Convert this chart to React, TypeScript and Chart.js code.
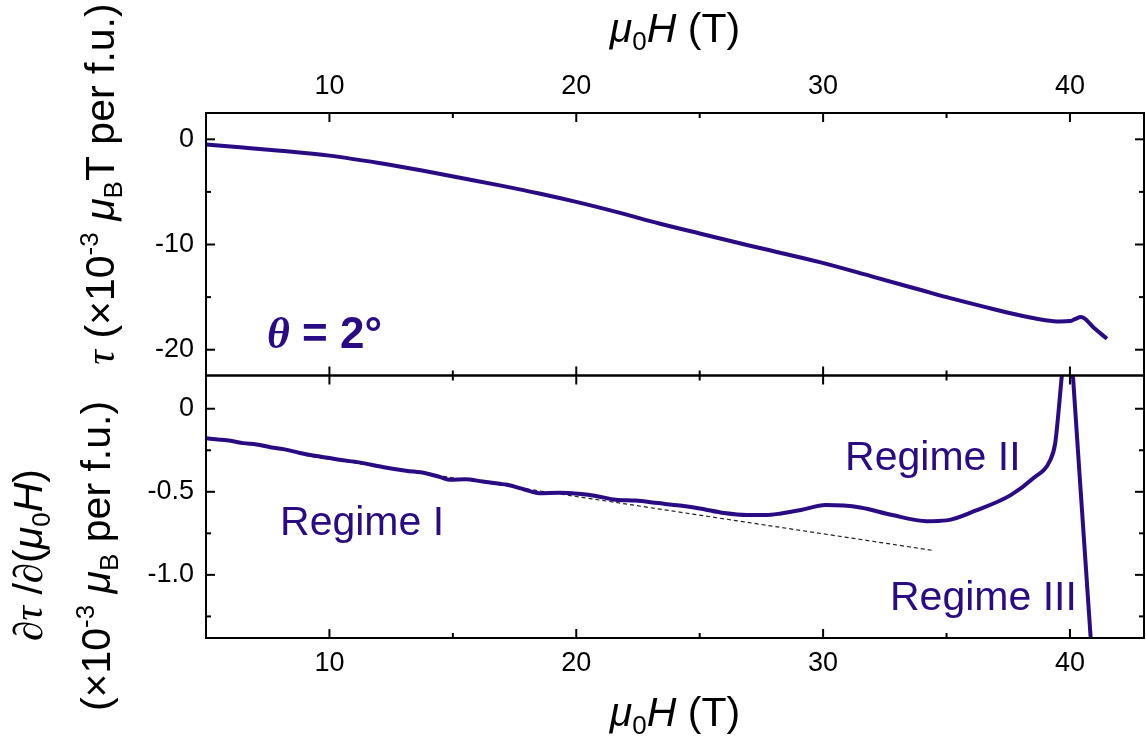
import React, { useEffect, useRef } from 'react';
import { Chart, registerables } from 'chart.js';

Chart.register(...registerables);

// ---- data ----
const torqueField = [5.0, 6.5, 8.0, 10.0, 12.0, 13.7, 15.5, 16.9, 18.5, 20.0, 21.7, 23.4, 25.0, 27.0, 29.9, 32.0, 34.0, 35.0, 36.5, 38.0, 39.0, 39.6, 40.0, 40.2, 40.45, 41.0, 41.5];
const torqueValues = [-0.5, -0.78, -1.08, -1.55, -2.25, -2.95, -3.75, -4.38, -5.15, -5.95, -6.95, -8.03, -8.95, -10.1, -11.7, -13.05, -14.35, -15.0, -15.9, -16.75, -17.2, -17.32, -17.28, -17.1, -16.9, -17.98, -18.96];

const derivField = [5.0, 5.5, 6.0, 6.5, 7.05, 7.65, 8.13, 8.8, 9.5, 10.4, 11.2, 12.2, 13.1, 13.9, 14.5, 14.9, 15.5, 16.2, 16.9, 17.2, 17.9, 18.5, 19.3, 20.2, 20.8, 21.6, 22.4, 23.3, 24.2, 25.0, 26.0, 26.9, 27.7, 28.3, 29.1, 30.1, 31.5, 32.8, 34.2, 35.0, 36.2, 37.6, 38.5, 39.2, 39.4, 39.53, 39.67, 39.8, 39.95, 40.05, 40.12, 40.84, 40.95];
const derivValues = [-0.178, -0.185, -0.193, -0.207, -0.215, -0.233, -0.243, -0.266, -0.285, -0.307, -0.323, -0.352, -0.373, -0.388, -0.412, -0.428, -0.425, -0.438, -0.452, -0.458, -0.486, -0.508, -0.505, -0.513, -0.525, -0.548, -0.553, -0.568, -0.583, -0.6, -0.628, -0.64, -0.64, -0.63, -0.61, -0.58, -0.594, -0.64, -0.677, -0.672, -0.612, -0.52, -0.42, -0.31, -0.21, -0.03, 0.2, 0.45, 0.6, 0.35, 0.2, -1.38, -1.6];

const fitField = [9.0, 34.5];
const fitValues = [-0.281, -0.854];

const xMajorTicks = [10, 20, 30, 40];
const xMinorTicks = [15, 25, 35];
const topMajorTicks = [0, -10, -20];
const topMinorTicks = [-5, -15];
const botMajorTicks = [0, -0.5, -1.0];
const botMinorTicks = [-0.25, -0.75, -1.25];

const regimeLabels = ['Regime I', 'Regime II', 'Regime III'];
const regimeLabelX = [8.0, 30.89, 32.71];
const regimeLabelY = [-0.761, -0.371, -1.211];
const angleLabelX = 7.47;
const angleLabelY = -19.79;

const LINE = '#2a0b84';
const SANS = "'Liberation Sans', Arial, sans-serif";
const SERIF = "'Liberation Serif', 'Times New Roman', serif";

type Seg = { t: string; f: string; dy?: number };

function richWidth(ctx: CanvasRenderingContext2D, segs: Seg[]) {
  let w = 0;
  for (const s of segs) {
    ctx.font = s.f;
    w += ctx.measureText(s.t).width;
  }
  return w;
}

function drawRich(ctx: CanvasRenderingContext2D, segs: Seg[], x: number, y: number, align: 'left' | 'center') {
  const w = richWidth(ctx, segs);
  let cx = align === 'center' ? x - w / 2 : x;
  ctx.textAlign = 'left';
  ctx.textBaseline = 'alphabetic';
  for (const s of segs) {
    ctx.font = s.f;
    ctx.fillText(s.t, cx, y + (s.dy || 0));
    cx += ctx.measureText(s.t).width;
  }
}

const big = `41px ${SANS}`;
const bigIt = `italic 41px ${SANS}`;
const small = `26px ${SANS}`;

const xTitle: Seg[] = [
  { t: 'μ', f: bigIt },
  { t: '0', f: small, dy: 8 },
  { t: 'H', f: bigIt },
  { t: ' (T)', f: big },
];
const topYTitle: Seg[] = [
  { t: 'τ', f: `italic 41px ${SERIF}` },
  { t: ' (×10', f: big },
  { t: '-3', f: small, dy: -16 },
  { t: ' ', f: big },
  { t: 'μ', f: bigIt },
  { t: 'B', f: small, dy: 8 },
  { t: 'T per f.u.)', f: big },
];
const botYTitle1: Seg[] = [
  { t: '∂', f: `41px ${SERIF}` },
  { t: 'τ', f: `italic 41px ${SERIF}` },
  { t: ' /', f: big },
  { t: '∂', f: `41px ${SERIF}` },
  { t: '(', f: big },
  { t: 'μ', f: bigIt },
  { t: '0', f: small, dy: 8 },
  { t: 'H', f: bigIt },
  { t: ')', f: big },
];
const botYTitle2: Seg[] = [
  { t: '(×10', f: big },
  { t: '-3', f: small, dy: -16 },
  { t: ' ', f: big },
  { t: 'μ', f: bigIt },
  { t: 'B', f: small, dy: 8 },
  { t: ' per f.u.)', f: big },
];
const angleLabel: Seg[] = [
  { t: 'θ', f: `italic bold 44px ${SERIF}` },
  { t: ' = 2°', f: `bold 44px ${SANS}` },
];

const panelClip = {
  id: 'panelClip',
  beforeDatasetDraw(chart: any, args: any) {
    const ys = chart.scales[args.meta.yAxisID];
    const ca = chart.chartArea;
    const ctx = chart.ctx;
    ctx.save();
    ctx.beginPath();
    ctx.rect(ca.left, ys.top, ca.right - ca.left, ys.bottom - ys.top);
    ctx.clip();
  },
  afterDatasetDraw(chart: any) {
    chart.ctx.restore();
  },
};

const decor = {
  id: 'decor',
  afterDraw(chart: any) {
    const ctx: CanvasRenderingContext2D = chart.ctx;
    const ca = chart.chartArea;
    const xs = chart.scales.x;
    const yt = chart.scales.yTop;
    const yb = chart.scales.yBot;
    const L = ca.left;
    const R = ca.right;
    ctx.save();
    ctx.strokeStyle = '#000';
    ctx.lineWidth = 2;
    const line = (x1: number, y1: number, x2: number, y2: number) => {
      ctx.beginPath();
      ctx.moveTo(x1, y1);
      ctx.lineTo(x2, y2);
      ctx.stroke();
    };
    const panels: [any, number[], number[]][] = [
      [yt, topMajorTicks, topMinorTicks],
      [yb, botMajorTicks, botMinorTicks],
    ];
    for (const [s, maj, min] of panels) {
      ctx.strokeRect(L, s.top, R - L, s.bottom - s.top);
      const yt2 = [...maj.map((v) => [v, 9]), ...min.map((v) => [v, 5])];
      for (const [v, len] of yt2) {
        const py = s.getPixelForValue(v);
        line(L, py, L + len, py);
        line(R, py, R - len, py);
      }
      const xt2 = [...xMajorTicks.map((v) => [v, 9]), ...xMinorTicks.map((v) => [v, 5])];
      for (const [v, len] of xt2) {
        const px = xs.getPixelForValue(v);
        line(px, s.top, px, s.top + len);
        line(px, s.bottom, px, s.bottom - len);
      }
    }

    // axis titles
    ctx.fillStyle = '#000';
    const cx = (L + R) / 2;
    drawRich(ctx, xTitle, cx, 42, 'center');
    drawRich(ctx, xTitle, cx, 726, 'center');

    ctx.save();
    ctx.translate(114, 184);
    ctx.rotate(-Math.PI / 2);
    drawRich(ctx, topYTitle, 0, 0, 'center');
    ctx.restore();

    ctx.save();
    ctx.translate(42, 555);
    ctx.rotate(-Math.PI / 2);
    drawRich(ctx, botYTitle1, 0, 0, 'center');
    ctx.restore();

    ctx.save();
    ctx.translate(110, 556);
    ctx.rotate(-Math.PI / 2);
    drawRich(ctx, botYTitle2, 0, 0, 'center');
    ctx.restore();

    // annotations
    ctx.fillStyle = LINE;
    drawRich(ctx, angleLabel, xs.getPixelForValue(angleLabelX), yt.getPixelForValue(angleLabelY), 'left');
    for (let i = 0; i < regimeLabels.length; i++) {
      drawRich(
        ctx,
        [{ t: regimeLabels[i], f: `41px ${SANS}` }],
        xs.getPixelForValue(regimeLabelX[i]),
        yb.getPixelForValue(regimeLabelY[i]),
        'left'
      );
    }
    ctx.restore();
  },
};

const tickFont = { family: SANS, size: 27 };

export default function App() {
  const ref = useRef<HTMLCanvasElement | null>(null);

  useEffect(() => {
    if (!ref.current) return;
    const chart = new Chart(ref.current, {
      type: 'line',
      data: {
        datasets: [
          {
            label: 'torque',
            data: torqueField.map((x, i) => ({ x, y: torqueValues[i] })),
            xAxisID: 'x',
            yAxisID: 'yTop',
            borderColor: LINE,
            borderWidth: 4,
            pointRadius: 0,
            fill: false,
            cubicInterpolationMode: 'monotone',
          },
          {
            label: 'derivative',
            data: derivField.map((x, i) => ({ x, y: derivValues[i] })),
            xAxisID: 'x',
            yAxisID: 'yBot',
            borderColor: LINE,
            borderWidth: 4,
            pointRadius: 0,
            fill: false,
            cubicInterpolationMode: 'monotone',
          },
          {
            label: 'fit',
            data: fitField.map((x, i) => ({ x, y: fitValues[i] })),
            xAxisID: 'x',
            yAxisID: 'yBot',
            borderColor: '#222',
            borderWidth: 1.2,
            borderDash: [4, 3],
            pointRadius: 0,
            fill: false,
            tension: 0,
          },
        ],
      },
      options: {
        animation: false,
        responsive: false,
        devicePixelRatio: 1,
        layout: { padding: { left: 0, right: 2, top: 0, bottom: 0 } },
        plugins: { legend: { display: false }, tooltip: { enabled: false } },
        events: [],
        scales: {
          x: {
            type: 'linear',
            position: 'bottom',
            min: 5,
            max: 43,
            afterBuildTicks: (s: any) => {
              s.ticks = xMajorTicks.map((v) => ({ value: v }));
            },
            afterFit: (s: any) => {
              s.height = 108;
            },
            grid: { display: false, drawTicks: false },
            border: { display: false },
            ticks: { padding: 9, font: tickFont, color: '#000', maxRotation: 0, callback: (v: any) => String(v) },
          },
          xTop: {
            type: 'linear',
            position: 'top',
            min: 5,
            max: 43,
            afterBuildTicks: (s: any) => {
              s.ticks = xMajorTicks.map((v) => ({ value: v }));
            },
            afterFit: (s: any) => {
              s.height = 113;
            },
            grid: { display: false, drawTicks: false },
            border: { display: false },
            ticks: { padding: 10, font: tickFont, color: '#000', maxRotation: 0, callback: (v: any) => String(v) },
          },
          yBot: {
            type: 'linear',
            position: 'left',
            stack: 'panels',
            stackWeight: 1,
            min: -1.38,
            max: 0.2,
            afterBuildTicks: (s: any) => {
              s.ticks = botMajorTicks.map((v) => ({ value: v }));
            },
            afterFit: (s: any) => {
              s.width = 206;
            },
            grid: { display: false, drawTicks: false },
            border: { display: false },
            ticks: {
              padding: 12,
              font: tickFont,
              color: '#000',
              callback: (v: any) => (Number(v) === 0 ? '0' : Number(v).toFixed(1)),
            },
          },
          yTop: {
            type: 'linear',
            position: 'left',
            stack: 'panels',
            stackWeight: 1,
            min: -22.45,
            max: 2.5,
            afterBuildTicks: (s: any) => {
              s.ticks = topMajorTicks.map((v) => ({ value: v }));
            },
            afterFit: (s: any) => {
              s.width = 206;
            },
            grid: { display: false, drawTicks: false },
            border: { display: false },
            ticks: { padding: 12, font: tickFont, color: '#000', callback: (v: any) => String(v) },
          },
        },
      } as any,
      plugins: [panelClip, decor],
    });
    return () => chart.destroy();
  }, []);

  return (
    <div style={{ position: 'absolute', left: 0, top: 0, width: 1146, height: 746, background: '#fff' }}>
      <canvas ref={ref} width={1146} height={746} style={{ display: 'block' }} />
    </div>
  );
}
